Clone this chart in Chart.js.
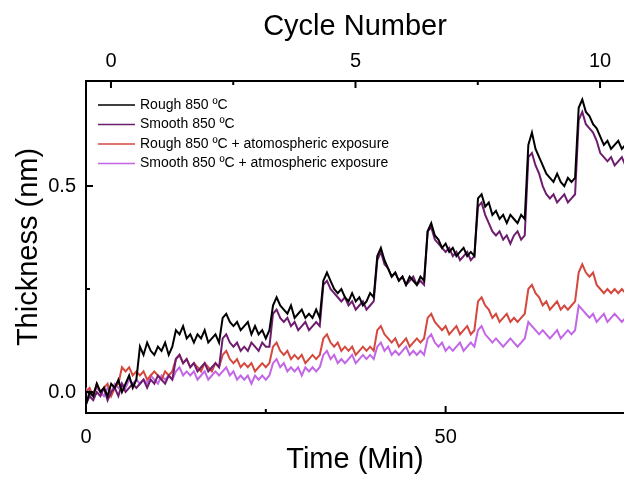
<!DOCTYPE html>
<html>
<head>
<meta charset="utf-8">
<script src="https://cdn.jsdelivr.net/npm/chart.js@4/dist/chart.umd.min.js"></script>
<style>
  html, body { margin: 0; padding: 0; background: #fff; }
  #chart { display: block; }
</style>
</head>
<body>
<canvas id="chart" width="624" height="477"></canvas>
<script>
// sampling interval of the traces (minutes)
const sampleStep = 0.5;

// thickness traces (nm), one value every 0.5 min
const rough850 = [
  -0.03, 0.00, -0.01, 0.02, 0.00, 0.01, -0.01, 0.02, 0.01, 0.03, 0.00, 0.02, 0.04, 0.01, 0.03,
  0.11, 0.09, 0.12, 0.10, 0.09, 0.11, 0.10, 0.12, 0.09, 0.11,
  0.15, 0.14, 0.16, 0.13, 0.14, 0.12, 0.14, 0.13, 0.15, 0.12, 0.13, 0.14, 0.12,
  0.18, 0.19, 0.17, 0.16, 0.17, 0.15, 0.16, 0.17, 0.14, 0.16, 0.14, 0.15, 0.13, 0.15,
  0.21, 0.23, 0.21, 0.20, 0.19, 0.21, 0.18, 0.19, 0.20, 0.18, 0.19, 0.18, 0.20, 0.18,
  0.27, 0.29, 0.27, 0.25, 0.24, 0.25, 0.23, 0.22, 0.24, 0.22, 0.23, 0.21, 0.22, 0.24, 0.23,
  0.33, 0.35, 0.32, 0.30, 0.28, 0.29, 0.27, 0.28, 0.26, 0.28, 0.27, 0.26, 0.28, 0.27,
  0.39, 0.41, 0.38, 0.37, 0.35, 0.36, 0.34, 0.35, 0.33, 0.34, 0.35, 0.33, 0.34, 0.33,
  0.47, 0.48, 0.45, 0.46, 0.43, 0.44, 0.42, 0.43, 0.41, 0.43, 0.42, 0.41, 0.43, 0.42,
  0.60, 0.63, 0.59, 0.57, 0.55, 0.53, 0.52, 0.51, 0.53, 0.51, 0.50, 0.52, 0.51, 0.52,
  0.69, 0.71, 0.68, 0.67, 0.65, 0.64, 0.62, 0.60, 0.61, 0.59, 0.60, 0.61, 0.59, 0.60
];
const smooth850 = [
  -0.03, -0.01, -0.02, 0.00, -0.01, 0.01, -0.02, 0.00, 0.01, -0.01, 0.02, 0.00, 0.01, 0.02, 0.01,
  0.02, 0.03, 0.01, 0.03, 0.02, 0.04, 0.03, 0.02, 0.04, 0.03,
  0.08, 0.09, 0.07, 0.08, 0.06, 0.07, 0.05, 0.06, 0.07, 0.05, 0.06, 0.07, 0.06,
  0.13, 0.14, 0.12, 0.11, 0.12, 0.10, 0.11, 0.10, 0.12, 0.11, 0.10, 0.12, 0.11, 0.11,
  0.19, 0.20, 0.18, 0.17, 0.18, 0.16, 0.17, 0.15, 0.16, 0.17, 0.15, 0.16, 0.17, 0.16,
  0.26, 0.27, 0.25, 0.24, 0.23, 0.22, 0.23, 0.21, 0.22, 0.20, 0.21, 0.22, 0.20, 0.21, 0.22,
  0.32, 0.34, 0.31, 0.30, 0.28, 0.29, 0.27, 0.28, 0.26, 0.27, 0.28, 0.26, 0.27, 0.26,
  0.39, 0.40, 0.37, 0.36, 0.35, 0.34, 0.35, 0.33, 0.34, 0.32, 0.33, 0.34, 0.32, 0.33,
  0.45, 0.46, 0.43, 0.41, 0.39, 0.38, 0.39, 0.37, 0.38, 0.36, 0.38, 0.39, 0.37, 0.38,
  0.57, 0.58, 0.55, 0.53, 0.50, 0.48, 0.47, 0.48, 0.46, 0.47, 0.48, 0.46, 0.47, 0.48,
  0.66, 0.68, 0.65, 0.64, 0.63, 0.61, 0.58, 0.57, 0.56, 0.57, 0.55, 0.56, 0.57, 0.55
];
const rough850Air = [
  0.00, 0.01, -0.01, 0.02, 0.00, 0.01, 0.02, -0.01, 0.01, 0.02, 0.06, 0.05, 0.06, 0.04, 0.05,
  0.04, 0.05, 0.03, 0.04, 0.05, 0.04, 0.03, 0.05, 0.04, 0.05,
  0.08, 0.09, 0.07, 0.08, 0.06, 0.07, 0.06, 0.05, 0.07, 0.06, 0.05, 0.07, 0.06,
  0.09, 0.10, 0.08, 0.07, 0.08, 0.06, 0.07, 0.06, 0.07, 0.05, 0.06, 0.07, 0.06, 0.07,
  0.11, 0.12, 0.10, 0.09, 0.10, 0.08, 0.09, 0.08, 0.09, 0.07, 0.08, 0.09, 0.08, 0.09,
  0.13, 0.14, 0.12, 0.11, 0.12, 0.10, 0.11, 0.10, 0.11, 0.09, 0.10, 0.11, 0.10, 0.11, 0.10,
  0.15, 0.16, 0.14, 0.13, 0.12, 0.13, 0.11, 0.12, 0.13, 0.11, 0.12, 0.13, 0.12, 0.13,
  0.18, 0.19, 0.17, 0.16, 0.15, 0.16, 0.14, 0.15, 0.16, 0.14, 0.15, 0.16, 0.14, 0.15,
  0.22, 0.23, 0.21, 0.20, 0.18, 0.19, 0.17, 0.18, 0.19, 0.17, 0.18, 0.17, 0.18, 0.19,
  0.25, 0.26, 0.24, 0.23, 0.21, 0.22, 0.20, 0.21, 0.22, 0.20, 0.21, 0.20, 0.21, 0.22,
  0.29, 0.31, 0.29, 0.28, 0.29, 0.26, 0.25, 0.24, 0.25, 0.24, 0.25, 0.24, 0.25, 0.24
];
const smooth850Air = [
  0.01, -0.01, 0.00, 0.01, 0.00, -0.01, 0.01, 0.00, 0.02, 0.01, 0.02, 0.01, 0.03, 0.02, 0.03,
  0.02, 0.03, 0.02, 0.04, 0.03, 0.02, 0.04, 0.03, 0.04, 0.03,
  0.05, 0.06, 0.04, 0.05, 0.04, 0.05, 0.03, 0.04, 0.05, 0.03, 0.04, 0.05, 0.04,
  0.05, 0.06, 0.04, 0.05, 0.03, 0.04, 0.03, 0.04, 0.02, 0.04, 0.03, 0.04, 0.03, 0.04,
  0.07, 0.08, 0.06, 0.07, 0.05, 0.06, 0.05, 0.06, 0.04, 0.06, 0.05, 0.06, 0.05, 0.06,
  0.09, 0.10, 0.08, 0.09, 0.07, 0.08, 0.07, 0.08, 0.09, 0.07, 0.08, 0.09, 0.08, 0.09, 0.08,
  0.11, 0.12, 0.10, 0.11, 0.09, 0.10, 0.09, 0.10, 0.11, 0.09, 0.10, 0.09, 0.10, 0.09,
  0.13, 0.14, 0.12, 0.11, 0.12, 0.10, 0.11, 0.10, 0.11, 0.12, 0.10, 0.11, 0.12, 0.11,
  0.15, 0.16, 0.14, 0.13, 0.12, 0.13, 0.12, 0.11, 0.12, 0.13, 0.12, 0.11, 0.12, 0.13,
  0.17, 0.16, 0.15, 0.14, 0.15, 0.14, 0.13, 0.14, 0.15, 0.13, 0.14, 0.15, 0.14, 0.15,
  0.21, 0.20, 0.19, 0.18, 0.19, 0.17, 0.18, 0.19, 0.17, 0.18, 0.19, 0.18, 0.17, 0.18
];

const seriesLabels = [
  'Rough 850 ºC',
  'Smooth 850 ºC',
  'Rough 850 ºC + atomospheric exposure',
  'Smooth 850 ºC + atmospheric exposure'
];
const seriesColors = ['#000000', '#6e1d6e', '#d4483d', '#c266e6'];

// axis ticks
const timeTicks = [0, 50];
const timeMinorTicks = [25];
const cycleTicks = [0, 5, 10];
const cycleMinorTicks = [2.5, 7.5];
const thicknessTicks = [0, 0.5];
const thicknessMinorTicks = [0.25];

// axis ranges
const timeMax = 74.8;
const cycleStartMin = 3.47;   // time of cycle 0
const cycleLength = 6.8;      // minutes per cycle

const toPoints = (values) => values.map((v, i) => ({ x: i * sampleStep, y: v }));

const inwardTicks = {
  id: 'inwardTicks',
  afterDraw(chart) {
    const { ctx, chartArea: area, scales } = chart;
    ctx.save();
    ctx.strokeStyle = '#000';
    ctx.lineWidth = 2;
    ctx.beginPath();
    const mark = (x1, y1, x2, y2) => { ctx.moveTo(x1, y1); ctx.lineTo(x2, y2); };
    timeTicks.forEach(v => { const x = scales.x.getPixelForValue(v); mark(x, area.bottom, x, area.bottom - 7); });
    timeMinorTicks.forEach(v => { const x = scales.x.getPixelForValue(v); mark(x, area.bottom, x, area.bottom - 4); });
    cycleTicks.forEach(v => { const x = scales.x2.getPixelForValue(v); mark(x, area.top, x, area.top + 7); });
    cycleMinorTicks.forEach(v => { const x = scales.x2.getPixelForValue(v); mark(x, area.top, x, area.top + 4); });
    thicknessTicks.forEach(v => { const y = scales.y.getPixelForValue(v); mark(area.left, y, area.left + 7, y); });
    thicknessMinorTicks.forEach(v => { const y = scales.y.getPixelForValue(v); mark(area.left, y, area.left + 4, y); });
    ctx.stroke();

    // legend in the upper left corner of the plot
    ctx.font = '14px "Liberation Sans", Arial, sans-serif';
    ctx.textBaseline = 'middle';
    ctx.fillStyle = '#000';
    chart.data.datasets.forEach((ds, i) => {
      const y = area.top + 24 + i * 19.5;
      ctx.strokeStyle = ds.borderColor;
      ctx.lineWidth = 1.5;
      ctx.beginPath();
      ctx.moveTo(area.left + 12, y);
      ctx.lineTo(area.left + 49, y);
      ctx.stroke();
      ctx.fillText(ds.label, area.left + 54, y);
    });
    ctx.restore();
  }
};

Chart.defaults.font.family = '"Liberation Sans", Arial, sans-serif';
Chart.defaults.color = '#000';

const traces = [rough850, smooth850, rough850Air, smooth850Air];

new Chart(document.getElementById('chart'), {
  type: 'line',
  data: {
    datasets: traces.map((values, i) => ({
      label: seriesLabels[i],
      data: toPoints(values),
      borderColor: seriesColors[i],
      backgroundColor: seriesColors[i],
      borderWidth: 2,
      pointRadius: 0,
      tension: 0,
      fill: false
    }))
  },
  options: {
    responsive: false,
    animation: false,
    layout: { padding: 0 },
    plugins: { legend: { display: false }, tooltip: { enabled: false } },
    scales: {
      x: {
        type: 'linear',
        position: 'bottom',
        min: 0,
        max: timeMax,
        afterBuildTicks: (scale) => { scale.ticks = timeTicks.map(v => ({ value: v })); },
        afterFit: (scale) => { scale.height = 64; },
        grid: { display: false, drawTicks: false },
        border: { display: true, color: '#000', width: 2 },
        ticks: { font: { size: 20 }, padding: 12, maxRotation: 0 },
        title: { display: true, text: 'Time (Min)', font: { size: 29 }, padding: { top: 0, bottom: 0 } }
      },
      x2: {
        type: 'linear',
        position: 'top',
        min: (0 - cycleStartMin) / cycleLength,
        max: (timeMax - cycleStartMin) / cycleLength,
        afterBuildTicks: (scale) => { scale.ticks = cycleTicks.map(v => ({ value: v })); },
        afterFit: (scale) => { scale.height = 81; },
        grid: { display: false, drawTicks: false },
        border: { display: true, color: '#000', width: 2 },
        ticks: { font: { size: 20 }, padding: 8, maxRotation: 0 },
        title: { display: true, text: 'Cycle Number', font: { size: 29 }, padding: { top: 10, bottom: 0 } }
      },
      y: {
        type: 'linear',
        position: 'left',
        min: -0.051,
        max: 0.755,
        afterBuildTicks: (scale) => { scale.ticks = thicknessTicks.map(v => ({ value: v })); },
        afterFit: (scale) => { scale.width = 86; },
        grid: { display: false, drawTicks: false },
        border: { display: true, color: '#000', width: 2 },
        ticks: { font: { size: 20 }, padding: 10, callback: (v) => v.toFixed(1) },
        title: { display: true, text: 'Thickness (nm)', font: { size: 29 }, padding: { top: 12, bottom: 0 } }
      }
    }
  },
  plugins: [inwardTicks]
});
</script>
</body>
</html>
